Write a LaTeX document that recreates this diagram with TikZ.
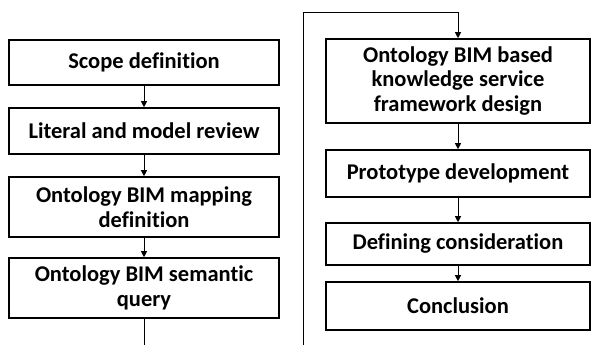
\documentclass[tikz,border=0pt]{standalone}
\usepackage{fontspec}
\setmainfont{Carlito}[Ligatures=NoCommon]
\usetikzlibrary{arrows.meta}
\begin{document}
\begin{tikzpicture}[x=1pt,y=-1pt,
  box/.style={draw=black,line width=1.6pt,align=center,font=\fontsize{22.5}{24.5}\selectfont\bfseries,inner sep=0pt},
  lbox/.style={box,minimum width=270pt},
  rbox/.style={box,minimum width=264pt},
  conn/.style={line width=0.9pt,-{Triangle[length=6pt,width=6pt]}},
  plain/.style={line width=0.9pt}]
\useasboundingbox (0,0) rectangle (591,345);
\node[lbox,minimum height=45pt] (b1) at (144,62.5) {Scope definition};
\node[lbox,minimum height=46pt] (b2) at (144,131) {Literal and model review};
\node[lbox,minimum height=60pt] (b3) at (144,207) {Ontology BIM mapping\\definition};
\node[lbox,minimum height=60pt] (b4) at (144,288) {Ontology BIM semantic\\query};
\node[rbox,minimum height=84pt] (b5) at (458,81) {Ontology BIM based\\knowledge service\\framework design};
\node[rbox,minimum height=47pt] (b6) at (458,173.5) {Prototype development};
\node[rbox,minimum height=42pt] (b7) at (458,244) {Defining consideration};
\node[rbox,minimum height=48pt] (b8) at (458,306) {Conclusion};
\coordinate (e1) at (144,345);
\coordinate (s1) at (303,345);
\coordinate (c1) at (303,12);
\coordinate (c2) at (458,12);
\draw[conn] (b1) -- (b2);
\draw[conn] (b2) -- (b3);
\draw[conn] (b3) -- (b4);
\draw[plain] (b4) -- (e1);
\draw[conn] (s1) -- (c1) -- (c2) -- (b5);
\draw[conn] (b5) -- (b6);
\draw[conn] (b6) -- (b7);
\draw[conn] (b7) -- (b8);
\end{tikzpicture}
\end{document}
